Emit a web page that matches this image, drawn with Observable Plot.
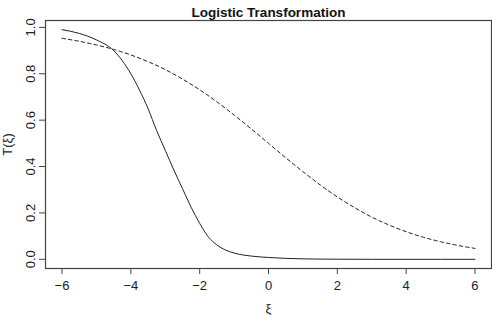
<!DOCTYPE html>
<html>
<head>
<meta charset="utf-8">
<script src="https://cdn.jsdelivr.net/npm/d3@7"></script>
<script src="https://cdn.jsdelivr.net/npm/@observablehq/plot@0.6"></script>
<style>
  html, body { margin: 0; padding: 0; background: #fff; }
  svg { font-family: "Liberation Sans", Arial, Helvetica, sans-serif; }
</style>
</head>
<body>
<div id="chart"></div>
<script>
// Solid curve (steep transformation)
const solidX = [-6, -5.5, -5, -4.5, -4, -3.75, -3.5, -3.25, -3, -2.75, -2.5, -2.25, -2, -1.75, -1.5, -1.25, -1, -0.5, 0, 0.5, 1, 1.5, 2, 3, 4, 5, 6];
const solidY = [0.990, 0.974, 0.946, 0.900, 0.800, 0.730, 0.650, 0.555, 0.470, 0.385, 0.305, 0.225, 0.155, 0.097, 0.062, 0.040, 0.027, 0.014, 0.008, 0.004, 0.002, 0.001, 0.0005, 0, 0, 0, 0];
// Dashed curve (gentle transformation)
const dashX = [-6, -5.5, -5, -4.5, -4, -3.5, -3, -2.5, -2, -1.5, -1, -0.5, 0, 0.5, 1, 1.5, 2, 2.5, 3, 3.5, 4, 4.5, 5, 5.5, 6];
const dashY = [0.953, 0.940, 0.924, 0.905, 0.881, 0.852, 0.818, 0.777, 0.731, 0.679, 0.622, 0.562, 0.500, 0.438, 0.378, 0.321, 0.269, 0.223, 0.182, 0.148, 0.119, 0.095, 0.076, 0.060, 0.047];
const xTicks = [-6, -4, -2, 0, 2, 4, 6];
const yTicks = [0.0, 0.2, 0.4, 0.6, 0.8, 1.0];
const title = "Logistic Transformation";
const xLabel = "ξ";
const yLabel = "T(ξ)";

const solid = solidX.map((x, i) => ({x, y: solidY[i]}));
const dashed = dashX.map((x, i) => ({x, y: dashY[i]}));

const ink = "#222";
const chart = Plot.plot({
  width: 492,
  height: 315,
  marginLeft: 45,
  marginRight: 1,
  marginTop: 20,
  marginBottom: 47,
  style: {fontSize: "13px", color: ink, background: "#fff"},
  x: {domain: [-6.48, 6.48]},
  y: {domain: [-0.0396, 1.0296]},
  marks: [
    Plot.line(dashed, {x: "x", y: "y", stroke: ink, strokeWidth: 1, strokeDasharray: "3.5,3", curve: "monotone-x"}),
    Plot.line(solid, {x: "x", y: "y", stroke: ink, strokeWidth: 1, curve: "monotone-x"}),
    Plot.axisX({ticks: xTicks, tickSize: 6, tickPadding: 6, tickFormat: d => d3.format("")(d).replace("-", "−"), label: xLabel, labelAnchor: "center", labelOffset: 44, labelArrow: "none", fontSize: 13, stroke: "#444"}),
    Plot.axisY({ticks: yTicks, tickSize: 6, tickPadding: 5, tickRotate: -90, tickFormat: d3.format(".1f"), label: yLabel, labelAnchor: "center", labelOffset: 43, labelArrow: "none", fontSize: 13, stroke: "#444"}),
    Plot.frame({stroke: "#444", strokeWidth: 1.2}),
    Plot.text([title], {frameAnchor: "top", dy: -13, text: d => d, fontWeight: "bold", fontSize: 13.5, fill: "#111"})
  ]
});
document.getElementById("chart").appendChild(chart);
</script>
</body>
</html>
